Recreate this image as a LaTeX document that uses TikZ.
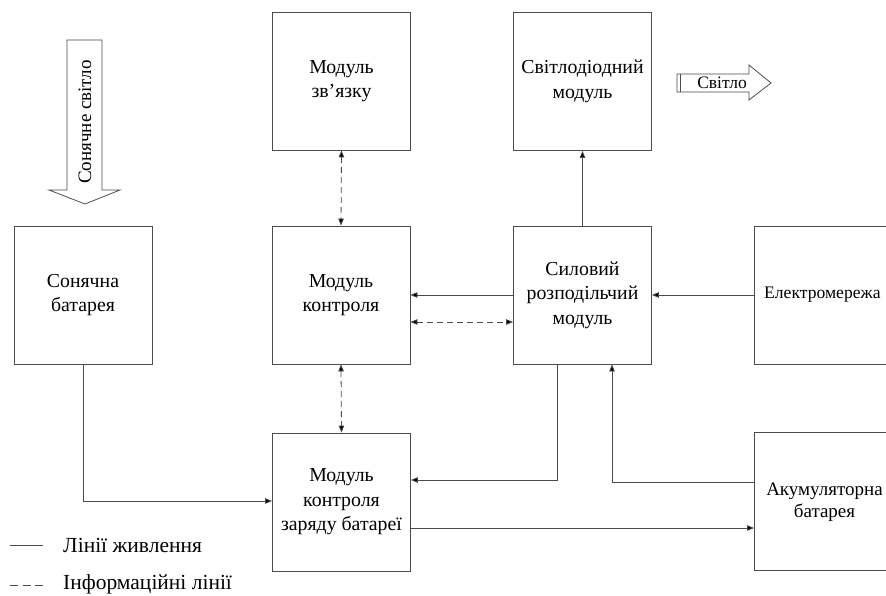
\documentclass[tikz,border=0pt]{standalone}
\usepackage{fontspec}
\setmainfont{Liberation Serif}
\newfontfamily\tmsfont{Liberation Serif}
\usetikzlibrary{arrows.meta}
\tikzset{
  x=1pt,y=-1pt,
  lc/.style={draw=black!70, line width=0.8pt},
  box/.style={lc, minimum width=138pt, minimum height=138pt, align=center, inner sep=0pt,
    font=\tmsfont\fontsize{19.8}{24.5}\selectfont},
  tip/.style={-{Triangle[length=7pt,width=5.5pt,fill=black]}},
  dtip/.style={{Triangle[length=7pt,width=5.5pt,fill=black]}-{Triangle[length=7pt,width=5.5pt,fill=black]}},
  power/.style={lc, tip},
  info/.style={lc, dash pattern=on 6pt off 4pt, dtip},
  txt/.style={font=\tmsfont\fontsize{19.8}{24.5}\selectfont, inner sep=0pt},
  legtxt/.style={font=\tmsfont\fontsize{21.5}{24}\selectfont, inner sep=0pt, anchor=west},
}
\begin{document}
\begin{tikzpicture}
\clip (0,0) rectangle (886,596);
\fill[white] (0,0) rectangle (886,596);

% boxes
\node[box] (zv) at (341.5,81) {Модуль\\зв’язку};
\node[box] (led) at (582.5,81.5) {Світлодіодний\\модуль};
\node[box] (sb) at (83,295) {Сонячна\\батарея};
\node[box] (mk) at (341,295) {Модуль\\контроля};
\node[box] (sr) at (582.5,295) {Силовий\\розподільчий\\модуль};
\node[box] (mz) at (341.5,502) {Модуль\\контроля\\заряду батареї};
% boxes cut by the right edge
\draw[lc] (910,226) -- (754,226) -- (754,364) -- (910,364);
\node[txt, anchor=west, font=\tmsfont\fontsize{17.6}{22}\selectfont] (em) at (764,295) {Електромережа};
\draw[lc] (910,432) -- (754,432) -- (754,570) -- (910,570);
\node[txt, align=center, font=\tmsfont\fontsize{19}{22}\selectfont] (ak) at (824.5,502) {Акумуляторна\\батарея};
\coordinate (emL) at (754,295);
\coordinate (akL) at (754,482);
\coordinate (akL2) at (754,528);

% sun light arrow
\draw[lc, fill=white] (67,40) -- (102,40) -- (102,190) -- (120,190) -- (85,204) -- (49,190) -- (67,190) -- cycle;
\node[txt, rotate=90, font=\tmsfont\fontsize{19}{22}\selectfont] (sun) at (85,122) {Сонячне світло};

% light arrow
\draw[lc, fill=white] (677,74) -- (749,74) -- (749,65) -- (771,83) -- (749,100) -- (749,92) -- (677,92) -- cycle;
\draw[lc] (680,74) -- (680,92);
\node[txt, font=\tmsfont\fontsize{17.5}{18}\selectfont] (light) at (722,83) {Світло};

% connectors
\draw[info] (zv.south) -- (mk.north);
\draw[info] (mk.south) -- (mz.north);
\draw[power] (sr.west |- 0,295) -- (mk.east |- 0,295);
\draw[info] (mk.east |- 0,322) -- (sr.west |- 0,322);
\draw[power] (emL) -- (sr.east |- 0,295);
\draw[power] (sr.north) -- (led.south);
\draw[power] (sr.south -| 557,0) -- (557,480) -- (mz.east |- 0,480);
\draw[power] (akL) -- (612,482) -- (sr.south -| 612,0);
\draw[power] (mz.east |- 0,528) -- (akL2);
\draw[power] (sb.south) -- (83,501) -- (mz.west |- 0,501);

% legend
\coordinate (l1a) at (10,545);
\coordinate (l1b) at (43,545);
\coordinate (l2a) at (10,585);
\coordinate (l2b) at (43,585);
\draw[lc] (l1a) -- (l1b);
\draw[lc, dash pattern=on 8pt off 4.5pt] (l2a) -- (l2b);
\node[legtxt] (leg1) at (63,545) {Лінії живлення};
\node[legtxt] (leg2) at (63,584) {Інформаційні лінії};
\end{tikzpicture}
\end{document}
